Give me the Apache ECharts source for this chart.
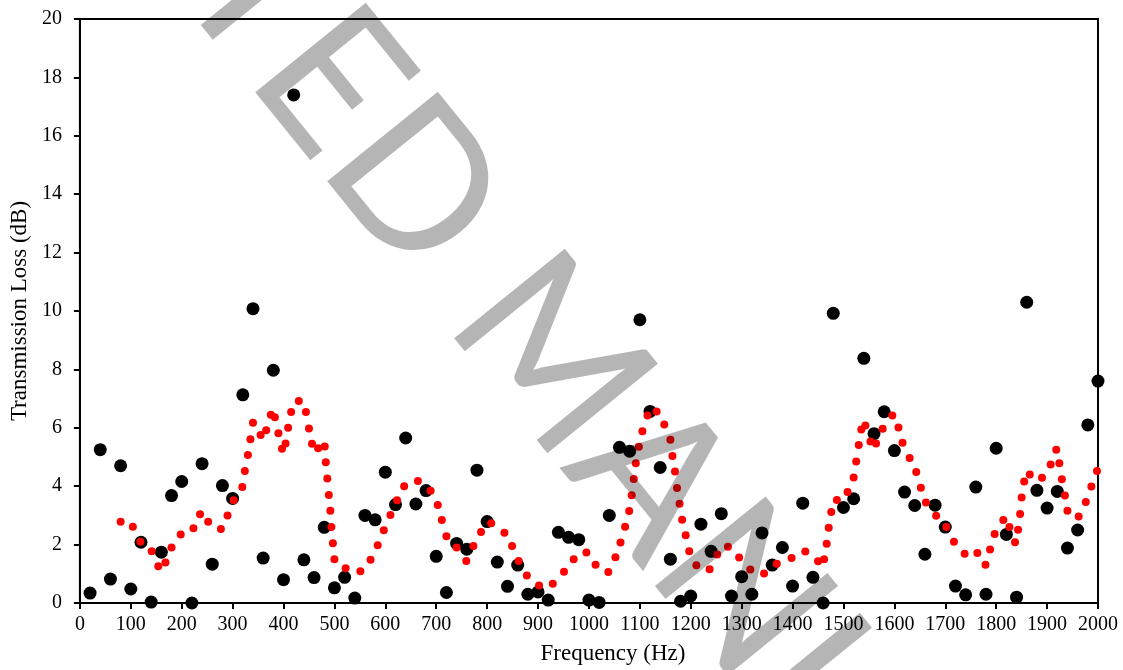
<!DOCTYPE html>
<html>
<head>
<meta charset="utf-8">
<script src="https://cdn.jsdelivr.net/npm/echarts@6/dist/echarts.min.js"></script>
<style>
html,body{margin:0;padding:0;background:#fff;}
#chart{width:1123px;height:670px;}
</style>
</head>
<body>
<div id="chart"></div>
<script>
// Measured transmission loss (black dots)
var measuredFreq = [20,40,60,80,100,120,140,160,180,200,220,240,260,280,300,320,340,360,380,400,
  420,440,460,480,500,520,540,560,580,600,620,640,660,680,700,720,740,760,780,800,
  820,840,860,880,900,920,940,960,980,1000,1020,1040,1060,1080,1100,1120,1140,1160,1180,1200,
  1220,1240,1260,1280,1300,1320,1340,1360,1380,1400,1420,1440,1460,1480,1500,1520,1540,1560,1580,1600,
  1620,1640,1660,1680,1700,1720,1740,1760,1780,1800,1820,1840,1860,1880,1900,1920,1940,1960,1980,2000];
var measuredTL = [0.34,5.25,0.82,4.70,0.48,2.08,0.03,1.74,3.68,4.16,0.00,4.77,1.33,4.02,3.58,7.13,10.08,1.54,7.97,0.80,
  17.40,1.48,0.87,2.59,0.52,0.88,0.17,3.00,2.85,4.48,3.37,5.65,3.39,3.85,1.60,0.36,2.04,1.84,4.55,2.79,
  1.40,0.57,1.30,0.30,0.38,0.10,2.42,2.25,2.17,0.10,0.02,3.00,5.33,5.20,9.70,6.56,4.64,1.50,0.06,0.24,
  2.70,1.77,3.06,0.24,0.90,0.30,2.40,1.30,1.90,0.58,3.42,0.88,0.00,9.92,3.27,3.57,8.38,5.80,6.55,5.22,
  3.80,3.34,1.67,3.35,2.60,0.58,0.28,3.97,0.30,5.30,2.35,0.20,10.30,3.86,3.25,3.82,1.88,2.50,6.10,7.60];

// Predicted transmission loss (red dotted curve)
var predictedFreq = [80,104,119,141,154,168,180,198,223,236,252,277,290,302,319,324,330,335,340,355,
  366,375,383,390,397,404,409,415,430,444,450,456,468,481,483,486,489,492,494,497,
  500,522,551,571,585,597,610,623,637,664,689,703,711,720,740,759,773,788,808,834,
  849,862,878,902,929,951,970,995,1013,1038,1052,1062,1071,1079,1084,1088,1092,1098,1105,1115,
  1133,1148,1160,1164,1169,1173,1178,1183,1190,1197,1211,1237,1252,1273,1295,1317,1344,1369,1398,1425,
  1450,1462,1467,1471,1476,1487,1508,1520,1525,1530,1535,1543,1553,1564,1577,1596,1608,1616,1630,1643,
  1652,1662,1682,1702,1717,1738,1763,1779,1788,1797,1814,1826,1837,1843,1847,1850,1855,1866,1890,1907,
  1918,1924,1929,1935,1940,1962,1976,1987,1998];
var predictedTL = [2.78,2.61,2.10,1.77,1.26,1.39,1.90,2.35,2.56,3.04,2.78,2.53,3.00,3.52,3.97,4.52,5.07,5.61,6.17,5.75,
  5.92,6.45,6.36,5.81,5.28,5.46,6.00,6.54,6.92,6.54,5.98,5.45,5.30,5.36,4.82,4.26,3.70,3.16,2.60,2.05,
  1.50,1.19,1.09,1.48,1.98,2.49,3.01,3.52,4.00,4.18,3.84,3.36,2.84,2.29,1.90,1.44,1.95,2.43,2.73,2.41,
  1.95,1.44,0.94,0.60,0.66,1.07,1.50,1.73,1.31,1.06,1.57,2.07,2.61,3.15,3.69,4.25,4.79,5.35,5.88,6.42,
  6.56,6.11,5.59,5.03,4.50,3.94,3.40,2.85,2.32,1.77,1.29,1.16,1.66,1.93,1.56,1.15,1.01,1.34,1.54,1.76,
  1.43,1.50,2.03,2.58,3.12,3.53,3.80,4.30,4.85,5.41,5.94,6.08,5.53,5.46,5.97,6.42,6.01,5.49,4.97,4.49,
  3.95,3.44,2.99,2.60,2.10,1.69,1.71,1.31,1.83,2.36,2.84,2.60,2.08,2.51,3.05,3.61,4.16,4.40,4.29,4.74,
  5.25,4.79,4.24,3.68,3.16,2.96,3.46,3.99,4.52];

var xTicks = {min: 0, max: 2000, step: 100};
var yTicks = {min: 0, max: 20, step: 2};
var xTitle = 'Frequency (Hz)';
var yTitle = 'Transmission Loss (dB)';
var watermarkText = 'UNEDITED MANUSCRIPT';

function pairs(xs, ys) { return xs.map(function (x, i) { return [x, ys[i]]; }); }

// ---- watermark placement (decoration only) ----
var WM_FAMILY = 'Lato, "Liberation Sans", sans-serif';
var WM_CAP = 143;            // cap height in px
var WM_ANGLE = 51;           // degrees, text runs down-right
var WM_E_STEM = [255, 92];   // bottom-left of the stem of the 2nd "E"
function wmPlacement() {
  var ctx = document.createElement('canvas').getContext('2d');
  ctx.font = '100px ' + WM_FAMILY;
  ctx.textBaseline = 'alphabetic';
  var cap = ctx.measureText('E').actualBoundingBoxAscent / 100;
  var size = WM_CAP / cap;
  ctx.font = size + 'px ' + WM_FAMILY;
  var before = ctx.measureText('UNEDIT').width;
  var lsb = -ctx.measureText('E').actualBoundingBoxLeft;
  ctx.textBaseline = 'middle';
  var midToBase = ctx.measureText('E').actualBoundingBoxDescent;
  var t = WM_ANGLE * Math.PI / 180;
  var dir = [Math.cos(t), Math.sin(t)];      // along baseline
  var down = [-Math.sin(t), Math.cos(t)];    // glyph "down"
  var along = before + lsb;
  var ox = WM_E_STEM[0] - along * dir[0] - midToBase * down[0];
  var oy = WM_E_STEM[1] - along * dir[1] - midToBase * down[1];
  return {x: ox, y: oy, size: size, rot: -t};
}
var wm = wmPlacement();

var chart = echarts.init(document.getElementById('chart'), null, {renderer: 'canvas'});
var serif = '"Liberation Serif", "Times New Roman", serif';
function plain(v) { return String(v); }

chart.setOption({
  animation: false,
  backgroundColor: '#fff',
  grid: {left: 77, right: 25, top: 19, bottom: 64, show: true, borderColor: '#000', borderWidth: 2, backgroundColor: 'transparent'},
  xAxis: {
    type: 'value', min: xTicks.min, max: xTicks.max, interval: xTicks.step,
    name: xTitle, nameLocation: 'middle', nameGap: 39,
    nameTextStyle: {color: '#000', fontFamily: serif, fontSize: 23, padding: [0, 0, 0, 48]},
    axisLine: {show: true, onZero: false, lineStyle: {color: '#000', width: 2}},
    axisTick: {show: true, inside: false, length: 6, lineStyle: {color: '#000', width: 2}},
    splitLine: {show: false},
    axisLabel: {color: '#000', fontFamily: serif, fontSize: 20, margin: 12, formatter: plain}
  },
  yAxis: {
    type: 'value', min: yTicks.min, max: yTicks.max, interval: yTicks.step,
    name: yTitle, nameLocation: 'middle', nameGap: 44,
    nameTextStyle: {color: '#000', fontFamily: serif, fontSize: 23},
    axisLine: {show: true, onZero: false, lineStyle: {color: '#000', width: 2}},
    axisTick: {show: true, inside: false, length: 6, lineStyle: {color: '#000', width: 2}},
    splitLine: {show: false},
    axisLabel: {color: '#000', fontFamily: serif, fontSize: 20, margin: 18, formatter: plain}
  },
  series: [
    {name: 'Measured', type: 'scatter', data: pairs(measuredFreq, measuredTL), symbol: 'circle', symbolSize: 13,
     itemStyle: {color: '#000', opacity: 1}, z: 2},
    {name: 'Predicted', type: 'scatter', data: pairs(predictedFreq, predictedTL), symbol: 'circle', symbolSize: 8,
     itemStyle: {color: '#ff0000', opacity: 1}, z: 3}
  ],
  graphic: [{
    type: 'text', x: wm.x, y: wm.y, rotation: wm.rot, z: 100, silent: true,
    style: {text: watermarkText, fill: 'rgba(0,0,0,0.29)', font: wm.size.toFixed(1) + 'px ' + WM_FAMILY,
            align: 'left', verticalAlign: 'middle'}
  }]
});
</script>
</body>
</html>
